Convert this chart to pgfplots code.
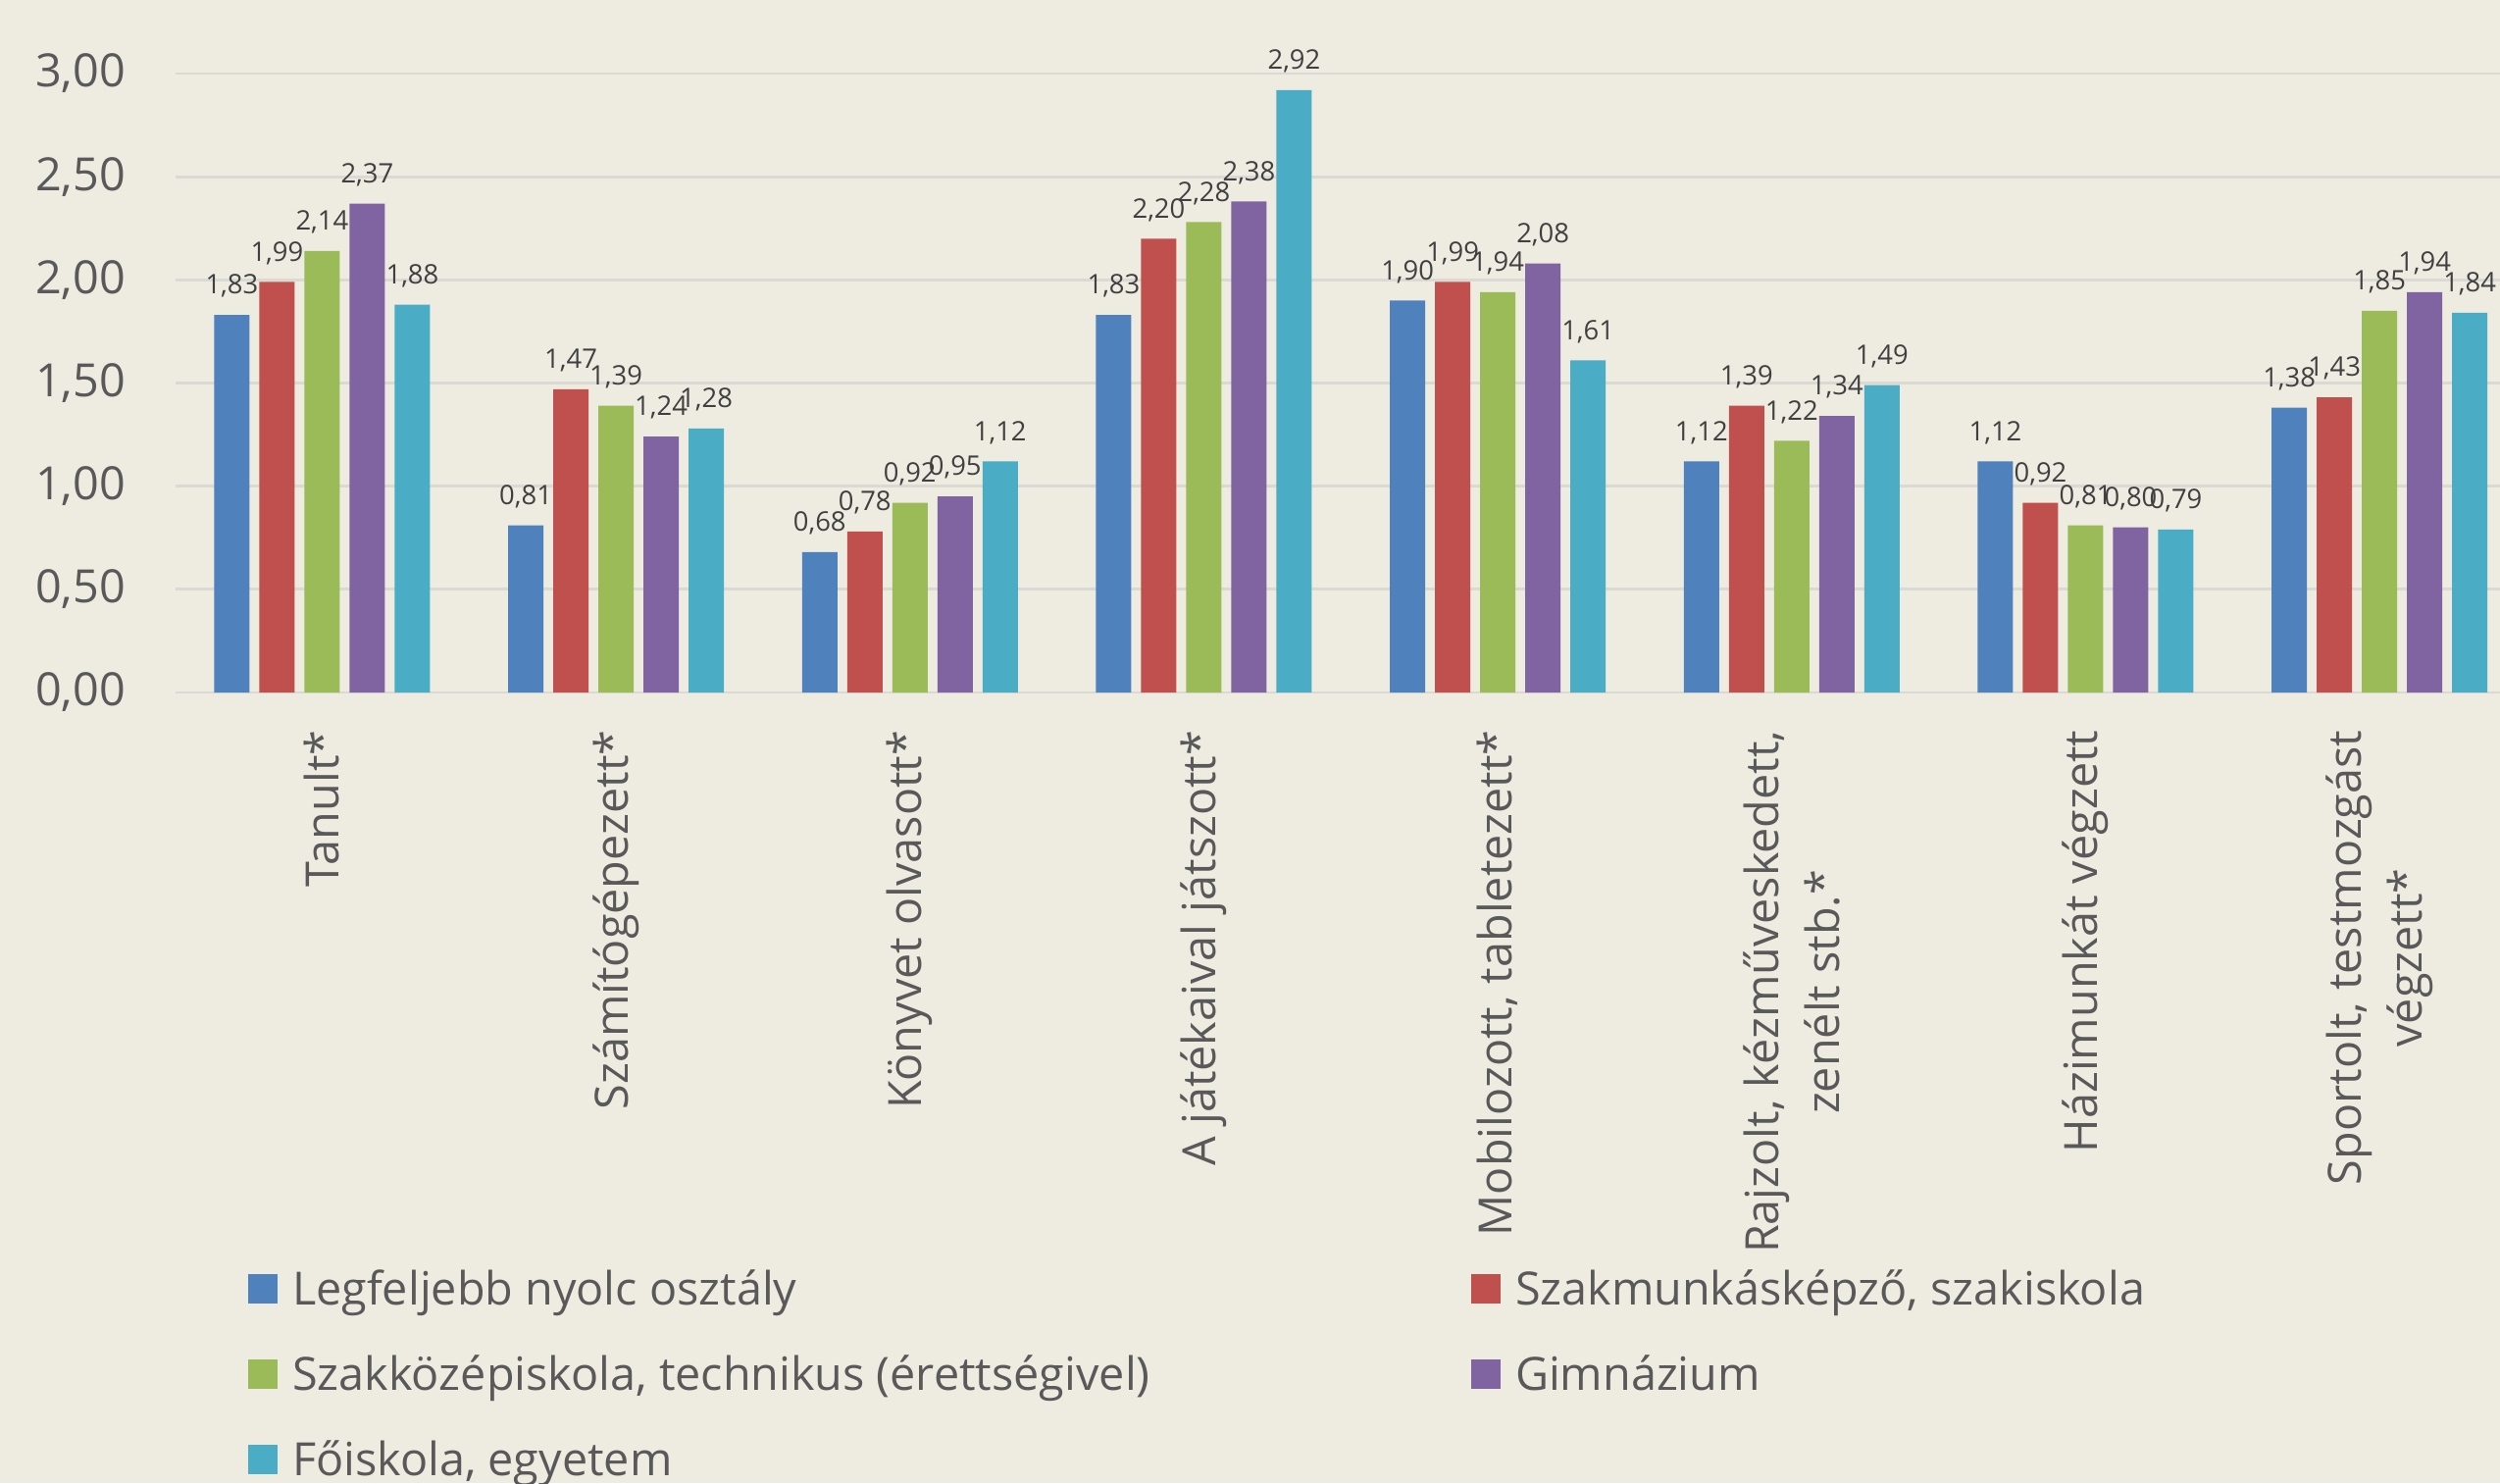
\documentclass[border=0pt]{standalone}
\usepackage{pgfplots}
\pgfplotsset{compat=1.18}
\usepackage{fontspec}
\setmainfont{Open Sans}
\definecolor{bg}{HTML}{EEECE1}
\definecolor{c1}{HTML}{4F81BD}
\definecolor{c2}{HTML}{C0504D}
\definecolor{c3}{HTML}{9BBB59}
\definecolor{c4}{HTML}{8064A2}
\definecolor{c5}{HTML}{4BACC6}
\definecolor{gridc}{HTML}{DAD9D4}
\definecolor{txt}{HTML}{595959}
\definecolor{lbl}{HTML}{404040}
\pgfplotsset{
  legsq/.style={legend image code/.code={\fill[##1] (0cm,-0.15cm) rectangle (0.3cm,0.15cm);}}
}
\begin{document}
\begin{tikzpicture}
\fill[bg] (0,0) rectangle (25.49,15.12);
\begin{axis}[
  at={(1.786cm,8.06cm)}, anchor=south west,
  scale only axis, width=23.704cm, height=6.31cm,
  xmin=-0.5, xmax=7.41, ymin=0, ymax=3,
  clip=false,
  ybar=0.1cm, bar width=0.36cm,
  axis line style={draw=none},
  major tick length=0pt,
  ytick={0,0.5,1,1.5,2,2.5,3},
  ymajorgrids,
  grid style={draw=gridc, line width=0.8pt},
  /pgf/number format/assume math mode=true,
  /pgf/number format/use comma,
  /pgf/number format/fixed,
  /pgf/number format/fixed zerofill,
  /pgf/number format/precision=2,
  yticklabel style={anchor=east, inner sep=0pt, font=\fontsize{13.3}{16}\selectfont, color=txt},
  yticklabel shift=0.5cm,
  xtick={0,1,2,3,4,5,6,7},
  xticklabels={Tanult*, Számítógépezett*, Könyvet olvasott*, A játékaival játszott*, {Mobilozott, tabletezett*}, {Rajzolt, kézműveskedett,\\zenélt stb.*}, Házimunkát végzett, {Sportolt, testmozgást\\végzett*}},
  xticklabel style={rotate=90, anchor=east, align=center, inner sep=0pt, font=\fontsize{13.3}{17.7}\selectfont, color=txt},
  xticklabel shift=0.38cm,
  nodes near coords,
  every node near coord/.append style={anchor=south, inner sep=0pt, yshift=0.17cm, font=\fontsize{7.8}{9}\selectfont, color=lbl},
  legend columns=2,
  legend cell align=left,
  legend style={draw=none, fill=none, inner sep=0pt, outer sep=0pt,
    at={(axis description cs:0.0314,-0.919)}, anchor=north west,
    font=\fontsize{13.3}{16}\selectfont, text=txt,
    nodes={inner sep=0pt, text height=0.45cm, text depth=0.12cm},
    row sep=0.30cm,
    /tikz/every odd column/.append style={column sep=0.15cm}},
]
\addplot[fill=c1, draw=none, legsq] coordinates {(0,1.83) (1,0.81) (2,0.68) (3,1.83) (4,1.90) (5,1.12) (6,1.12) (7,1.38)};
\addlegendentry{\makebox[12.02cm][l]{Legfeljebb nyolc osztály}}
\addplot[fill=c2, draw=none, legsq] coordinates {(0,1.99) (1,1.47) (2,0.78) (3,2.20) (4,1.99) (5,1.39) (6,0.92) (7,1.43)};
\addlegendentry{Szakmunkásképző, szakiskola}
\addplot[fill=c3, draw=none, legsq] coordinates {(0,2.14) (1,1.39) (2,0.92) (3,2.28) (4,1.94) (5,1.22) (6,0.81) (7,1.85)};
\addlegendentry{\makebox[12.02cm][l]{Szakközépiskola, technikus (érettségivel)}}
\addplot[fill=c4, draw=none, legsq] coordinates {(0,2.37) (1,1.24) (2,0.95) (3,2.38) (4,2.08) (5,1.34) (6,0.80) (7,1.94)};
\addlegendentry{Gimnázium}
\addplot[fill=c5, draw=none, legsq] coordinates {(0,1.88) (1,1.28) (2,1.12) (3,2.92) (4,1.61) (5,1.49) (6,0.79) (7,1.84)};
\addlegendentry{\makebox[12.02cm][l]{Főiskola, egyetem}}
\end{axis}
\pgfresetboundingbox
\useasboundingbox (0,0) rectangle (25.49,15.12);
\end{tikzpicture}
\end{document}
